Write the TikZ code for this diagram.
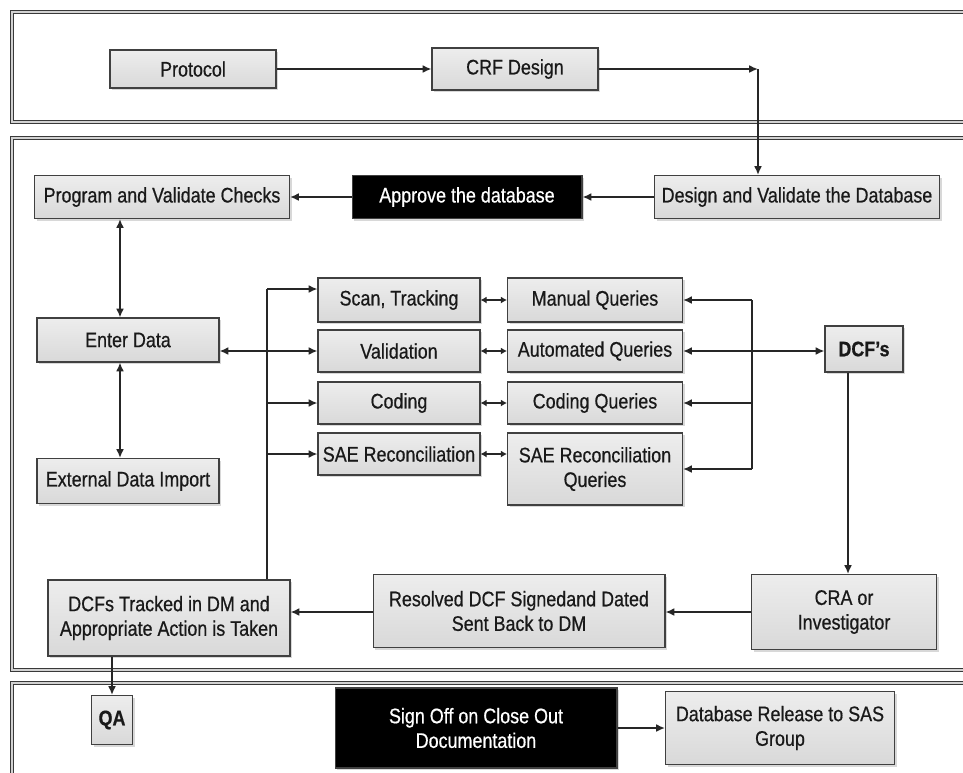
\documentclass[tikz,border=0pt]{standalone}
\usepackage{fontspec}
\setmainfont{Liberation Sans}[FakeStretch=0.85,FakeBold=0.6]
\usetikzlibrary{arrows.meta,shadows}
\begin{document}
\begin{tikzpicture}[x=0.02cm,y=-0.02cm,
  box/.style={draw=gray!50!black, line width=0.6pt, top color=gray!14, middle color=white, bottom color=gray!30,
    drop shadow={opacity=0.3, shadow xshift=1.2pt, shadow yshift=-1.2pt},
    inner sep=1pt, align=center, text=black!90, font=\fontsize{12}{14}\selectfont},
  dark/.style={box, top color=black, middle color=black!90, bottom color=black, text=white},
  conn/.style={draw=gray!30!black, line width=1.1pt},
  arr/.style={conn, -{Latex[length=5pt,width=4.5pt]}},
  darr/.style={conn, {Latex[length=5pt,width=4.5pt]}-{Latex[length=5pt,width=4.5pt]}},
  sdarr/.style={conn, {Latex[length=3.5pt,width=4pt]}-{Latex[length=3.5pt,width=4pt]}},
  frame/.style={draw=gray!45!black, line width=0.8pt, double=gray!35, double distance=0.8pt}
]
\useasboundingbox (0,0) rectangle (963,772);
\fill[white] (0,0) rectangle (963,772);

% frames
\draw[frame] (963,12) -- (12,12) -- (12,122) -- (963,122);
\draw[frame] (963,138) -- (12,138) -- (12,670) -- (963,670);
\draw[frame] (963,683) -- (12,683) -- (12,775);

% nodes
\node[box, minimum width=3.32cm, minimum height=0.76cm] (protocol) at (193,69) {Protocol};
\node[box, minimum width=3.32cm, minimum height=0.84cm] (crf) at (515,69) {CRF Design};
\node[box, minimum width=5.7cm, minimum height=0.86cm] (designdb) at (797,197) {Design and Validate the Database};
\node[dark, minimum width=4.6cm, minimum height=0.86cm] (approve) at (467,197) {Approve the database};
\node[box, minimum width=5.1cm, minimum height=0.86cm] (program) at (162,197) {Program and Validate Checks};
\node[box, minimum width=3.64cm, minimum height=0.88cm] (enter) at (128,340) {Enter Data};
\node[box, minimum width=3.64cm, minimum height=0.9cm] (external) at (128,481) {External Data Import};

\node[box, minimum width=3.24cm, minimum height=0.88cm] (scan) at (399,300) {Scan, Tracking};
\node[box, minimum width=3.24cm, minimum height=0.84cm] (validation) at (399,351) {Validation};
\node[box, minimum width=3.24cm, minimum height=0.84cm] (coding) at (399,403) {Coding};
\node[box, minimum width=3.24cm, minimum height=0.84cm] (saerec) at (399,454) {SAE Reconciliation};

\node[box, minimum width=3.5cm, minimum height=0.88cm] (manual) at (595,300) {Manual Queries};
\node[box, minimum width=3.5cm, minimum height=0.84cm] (automated) at (595,351) {Automated Queries};
\node[box, minimum width=3.5cm, minimum height=0.84cm] (codingq) at (595,403) {Coding Queries};
\node[box, minimum width=3.5cm, minimum height=1.44cm] (saeq) at (595,469) {SAE Reconciliation\\Queries};

\node[box, minimum width=1.56cm, minimum height=0.92cm, font=\fontsize{12}{14}\selectfont\bfseries] (dcf) at (864,349) {DCF's};
\node[box, minimum width=3.7cm, minimum height=1.5cm] (cra) at (844,612) {CRA or\\Investigator};
\node[box, minimum width=5.84cm, minimum height=1.46cm] (resolved) at (519,611) {Resolved DCF Signedand Dated\\Sent Back to DM};
\node[box, minimum width=4.84cm, minimum height=1.52cm] (tracked) at (169,618) {DCFs Tracked in DM and\\Appropriate Action is Taken};

\node[box, minimum width=0.82cm, minimum height=0.98cm, font=\fontsize{12}{14}\selectfont\bfseries] (qa) at (112,720) {QA};
\node[dark, minimum width=5.64cm, minimum height=1.6cm] (signoff) at (476,728) {Sign Off on Close Out\\Documentation};
\node[box, minimum width=4.58cm, minimum height=1.46cm] (release) at (780,728) {Database Release to SAS\\Group};

% helper coordinates
\coordinate (c1) at (758,69);
\coordinate (v1) at (120,0);
\coordinate (bus) at (267,0);
\coordinate (rbus) at (752,0);
\coordinate (v2) at (848,0);
\coordinate (h1) at (0,612);

% connectors
\draw[arr] (protocol) -- (crf);
\draw[arr] (crf) -- (c1);
\draw[arr] (c1) -- (designdb.north -| c1);
\draw[arr] (designdb) -- (approve);
\draw[arr] (approve) -- (program);
\draw[darr] (program.south -| v1) -- (enter.north -| v1);
\draw[darr] (enter.south -| v1) -- (external.north -| v1);
\draw[darr] (enter.east |- validation) -- (validation.west);

\draw[conn] (tracked.north -| bus) -- ([yshift=0.22cm]scan.west -| bus);
\draw[arr] ([yshift=0.22cm]scan.west -| bus) -- ([yshift=0.22cm]scan.west);
\draw[arr] (bus |- coding) -- (coding.west);
\draw[arr] (bus |- saerec) -- (saerec.west);

\draw[sdarr] (scan.east) -- (manual.west |- scan);
\draw[sdarr] (validation.east) -- (automated.west |- validation);
\draw[sdarr] (coding.east) -- (codingq.west |- coding);
\draw[sdarr] (saerec.east) -- (saeq.west |- saerec);

\draw[conn] (rbus |- manual) -- (rbus |- saeq);
\draw[arr] (rbus |- manual) -- (manual.east);
\draw[arr] (rbus |- codingq) -- (codingq.east);
\draw[arr] (rbus |- saeq) -- (saeq.east);
\draw[darr] (automated.east) -- (automated.east -| dcf.west);

\draw[arr] (dcf.south -| v2) -- (cra.north -| v2);
\draw[arr] (cra.west |- h1) -- (resolved.east |- h1);
\draw[arr] (resolved.west |- h1) -- (tracked.east |- h1);
\draw[arr] (tracked.south -| qa) -- (qa.north);
\draw[arr] (signoff) -- (release);
\end{tikzpicture}
\end{document}
